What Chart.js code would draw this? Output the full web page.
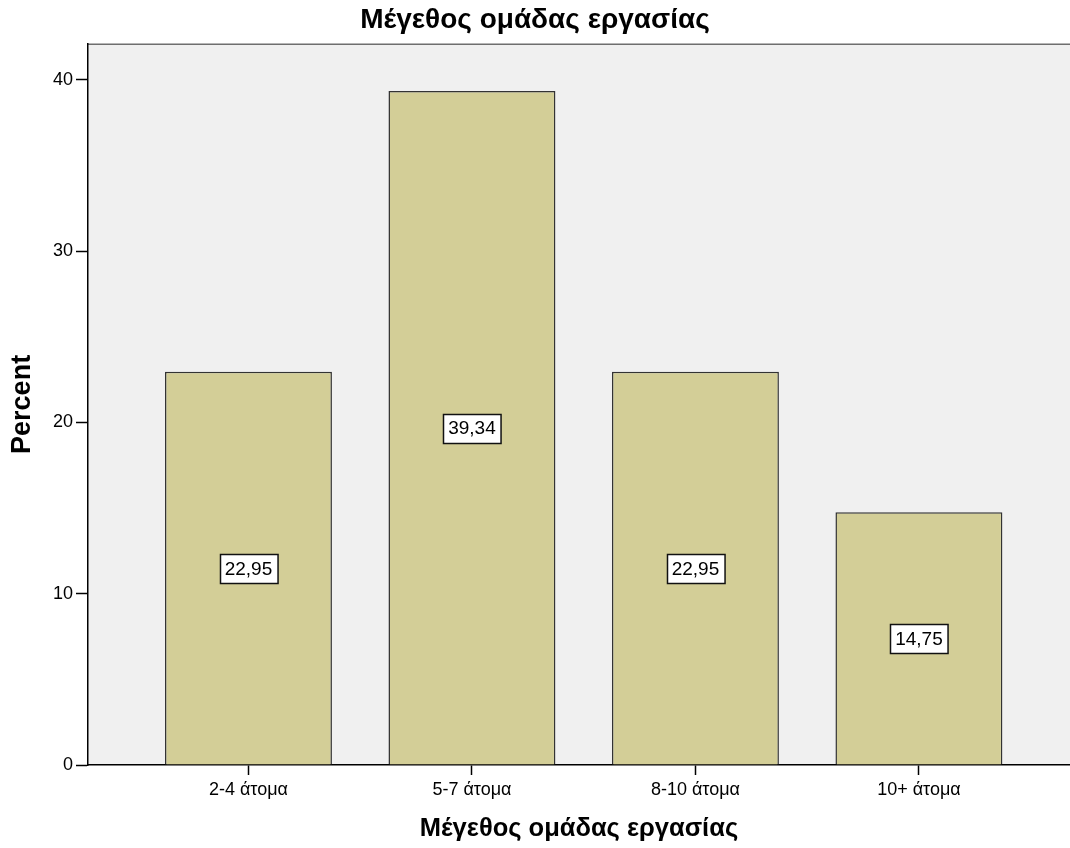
<!DOCTYPE html>
<html>
<head>
<meta charset="utf-8">
<title>Μέγεθος ομάδας εργασίας</title>
<script src="https://cdn.jsdelivr.net/npm/chart.js@4/dist/chart.umd.min.js"></script>
<style>
  html, body { margin: 0; padding: 0; background: #ffffff; }
  #wrap { width: 1070px; height: 848px; }
</style>
</head>
<body>
<div id="wrap"><canvas id="chart" width="1070" height="848"></canvas></div>
<script>
// Team size categories and percentage of respondents in each
const categories = ['2-4 άτομα', '5-7 άτομα', '8-10 άτομα', '10+ άτομα'];
const percents = [22.95, 39.34, 22.95, 14.75];
const yTicks = [0, 10, 20, 30, 40];

const chartTitle = 'Μέγεθος ομάδας εργασίας';
const xTitle = 'Μέγεθος ομάδας εργασίας';
const yTitle = 'Percent';

const FONT = "'Liberation Sans', Arial, sans-serif";

// Light grey plot panel with a thin grey frame along its top edge
const panelPlugin = {
  id: 'panel',
  beforeDraw(chart) {
    const { ctx, chartArea: a } = chart;
    ctx.save();
    ctx.fillStyle = '#f0f0f0';
    ctx.fillRect(a.left, a.top, a.right - a.left, a.bottom - a.top);
    ctx.strokeStyle = '#6e6e6e';
    ctx.lineWidth = 1.5;
    ctx.beginPath();
    ctx.moveTo(a.left, a.top + 0.5);
    ctx.lineTo(a.right, a.top + 0.5);
    ctx.stroke();
    ctx.restore();
  }
};

// Boxed value labels placed at the middle of each bar
const valueBoxPlugin = {
  id: 'valueBoxes',
  afterDatasetsDraw(chart) {
    const { ctx } = chart;
    const yScale = chart.scales.y;
    const meta = chart.getDatasetMeta(0);
    ctx.save();
    ctx.font = '19px ' + FONT;
    ctx.textAlign = 'center';
    ctx.textBaseline = 'middle';
    meta.data.forEach((bar, i) => {
      const v = chart.data.datasets[0].data[i].y;
      const text = v.toFixed(2).replace('.', ',');
      const cx = bar.x;
      const cy = yScale.getPixelForValue(v / 2);
      const w = ctx.measureText(text).width + 10;
      const h = 29;
      const x0 = Math.round(cx - w / 2) + 0.5;
      const y0 = Math.round(cy - h / 2) + 0.5;
      ctx.fillStyle = '#ffffff';
      ctx.fillRect(x0, y0, w, h);
      ctx.strokeStyle = '#111111';
      ctx.lineWidth = 1.5;
      ctx.strokeRect(x0, y0, w, h);
      ctx.fillStyle = '#000000';
      ctx.fillText(text, cx, cy + 1);
    });
    ctx.restore();
  }
};

new Chart(document.getElementById('chart'), {
  type: 'bar',
  data: {
    datasets: [{
      data: percents.map((p, i) => ({ x: i, y: p })),
      backgroundColor: '#d3ce97',
      borderColor: '#333333',
      borderWidth: 1.5,
      borderSkipped: 'start',
      categoryPercentage: 1,
      barPercentage: 0.747
    }]
  },
  options: {
    responsive: false,
    animation: false,
    layout: { padding: 0 },
    plugins: {
      legend: { display: false },
      tooltip: { enabled: false },
      title: {
        display: true,
        text: chartTitle,
        color: '#000000',
        font: { family: FONT, size: 28, weight: 'bold', lineHeight: 1.1 },
        padding: { top: 5, bottom: 8 }
      }
    },
    scales: {
      x: {
        type: 'linear',
        offset: false,
        min: -0.718,
        max: 3.676,
        afterBuildTicks(scale) {
          scale.ticks = categories.map((_, i) => ({ value: i }));
        },
        afterFit(scale) { scale.height = 83; },
        ticks: {
          color: '#000000',
          font: { family: FONT, size: 18 },
          padding: 4,
          maxRotation: 0,
          autoSkip: false,
          callback: (v) => categories[v]
        },
        grid: {
          offset: false,
          drawOnChartArea: false,
          drawTicks: true,
          tickLength: 10,
          tickColor: '#000000',
          tickWidth: 1.5
        },
        border: { display: true, color: '#000000', width: 1.5 },
        title: {
          display: true,
          text: xTitle,
          color: '#000000',
          font: { family: FONT, size: 25.5, weight: 'bold', lineHeight: 1.2 },
          padding: { top: 0, bottom: 4 }
        }
      },
      y: {
        min: 0,
        max: 42.1,
        afterBuildTicks(scale) {
          scale.ticks = yTicks.map(v => ({ value: v }));
        },
        afterFit(scale) { scale.width = 88; },
        ticks: {
          color: '#000000',
          font: { family: FONT, size: 18 },
          padding: 3
        },
        grid: {
          drawOnChartArea: false,
          drawTicks: true,
          tickLength: 12,
          tickColor: '#000000',
          tickWidth: 1.5
        },
        border: { display: true, color: '#000000', width: 1.5 },
        title: {
          display: true,
          text: yTitle,
          color: '#000000',
          font: { family: FONT, size: 27, weight: 'bold', lineHeight: 1.2 },
          padding: { top: 6, bottom: 0 }
        }
      }
    }
  },
  plugins: [panelPlugin, valueBoxPlugin]
});
</script>
</body>
</html>
